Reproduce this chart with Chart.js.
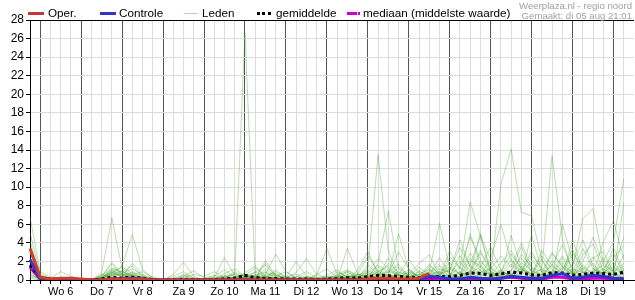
<!DOCTYPE html>
<html>
<head>
<meta charset="utf-8">
<script src="https://cdn.jsdelivr.net/npm/chart.js@4"></script>
<style>
  body { margin: 0; background: #fff; font-family: "Liberation Sans", Arial, sans-serif; }
  #wrap { position: relative; width: 635px; height: 300px; }
  .lg { position: absolute; top: 6px; font-size: 11.7px; color: #000; white-space: nowrap; }
  .sw { position: absolute; }
  .credit { position: absolute; right: 3px; font-size: 9.6px; color: #a0a0a0; white-space: nowrap; }
</style>
</head>
<body>
<div id="wrap">
  <canvas id="neerslag"></canvas>
  <div class="sw" style="left:28px;top:12px;width:16px;height:0;border-top:3px solid #cc3333"></div>
  <div class="lg" style="left:48px">Oper.</div>
  <div class="sw" style="left:100px;top:12px;width:16px;height:0;border-top:3px solid #3333cc"></div>
  <div class="lg" style="left:119px">Controle</div>
  <div class="sw" style="left:184px;top:13px;width:14px;height:0;border-top:1px solid #b7d8aa"></div>
  <div class="lg" style="left:202px">Leden</div>
  <div class="sw" style="left:257px;top:12px;width:14px;height:0;border-top:3px dotted #000"></div>
  <div class="lg" style="left:276px">gemiddelde</div>
  <div class="sw" style="left:347px;top:12px;width:10px;height:0;border-top:3px solid #cc00cc"></div>
  <div class="sw" style="left:358px;top:12px;width:2px;height:0;border-top:3px solid #cc00cc"></div>
  <div class="lg" style="left:363px">mediaan (middelste waarde)</div>
  <div class="credit" style="top:0px">Weerplaza.nl - regio noord</div>
  <div class="credit" style="top:10px">Gemaakt: di 05 aug 21:01</div>
</div>
<script>
// 6-uurlijkse stappen, index 0 = di 5 aug 18:00
const dagen = ['Wo 6', 'Do 7', 'Vr 8', 'Za 9', 'Zo 10', 'Ma 11', 'Di 12', 'Wo 13', 'Do 14', 'Vr 15', 'Za 16', 'Zo 17', 'Ma 18', 'Di 19'];
const aantalStappen = 60;
const yTicks = [0, 2, 4, 6, 8, 10, 12, 14, 16, 18, 20, 22, 24, 26, 28];

const oper = [3.4,0.3,0.1,0.2,0.2,0.1,0,0,0.1,0.1, 0.1,0.1,0,0,0,0,0,0,0,0, 0,0,0,0,0,0,0,0,0,0, 0,0,0,0.1,0.2,0.2,0.1,0.1,0.2,0.7];
const controle = [2.2,0.1,0,0,0,0,0,0,0.1,0.1, 0.2,0.1,0,0,0,0,0,0,0,0, 0,0,0,0,0,0,0,0,0,0, 0,0,0,0,0,0.1,0,0,0.1,0.4, 0.3,0.1,0.1,0.3,0.2,0.1,0.2,0.4,0.3,0.2, 0.2,0.5,0.7,0.2,0.3,0.5,0.4,0.2,0.1,0.1];
const gemiddelde = [1.6,0.2,0.1,0.1,0.1,0,0,0.1,0.3,0.2, 0.3,0.2,0.05,0,0,0.1,0.05,0,0.05,0.1, 0.2,0.5,0.25,0.15,0.15,0.1,0.1,0.1,0.05,0.1, 0.15,0.25,0.2,0.35,0.5,0.45,0.4,0.3,0.25,0.3, 0.4,0.35,0.5,0.75,0.7,0.5,0.65,0.85,0.75,0.55, 0.5,0.8,0.75,0.5,0.6,0.75,0.7,0.6,0.85,0.9];
const mediaan = [1.4,0.1,0,0,0,0,0,0,0.1,0.1, 0.1,0,0,0,0,0,0,0,0,0, 0,0,0,0,0,0,0,0,0,0, 0,0,0,0,0.1,0.1,0,0,0,0.1, 0.1,0,0.1,0.2,0.1,0.1,0.2,0.3,0.2,0.1, 0.1,0.3,0.3,0.1,0.1,0.2,0.2,0.1,0.2,0.1];

const leden = [
  [6.8,0.9,0.3,0.2,0.1,0,0,0.4,1.9,0.6, 0.3,0.1,0,0,0.2,0.5,0.1,0,0,0.3, 0.6,26.6,0.4,0.2,0.1,0,0,0.2,0.1,0, 0.3,0.8,0.4,1.2,13.5,3.1,0.6,0.2,0.1,0.4, 1.2,0.8,0.3,2.1,1.5,0.6,0.3,1.1,2.4,0.9, 0.5,1.6,3.8,1.2,0.4,2.3,3.1,0.8,1.5,2.2],
  [5.1,0.6,0.2,0.1,0.2,0,0,0.8,6.7,1.2, 0.4,0.2,0,0,0,0.2,0.1,0,0,0, 0.2,0.5,1.3,0.4,0.2,0.1,0,0,0.5,3.4, 0.6,0.2,0.1,0.3,0.9,0.5,5.0,1.1,0.3,0.2, 0.8,0.5,1.4,8.4,4.7,1.0,0.3,0.6,1.2,0.4, 0.2,0.9,2.6,1.4,6.6,7.7,2.0,0.6,1.3,0.5],
  [4.2,0.5,0.2,0.9,0.4,0.1,0,0.2,0.6,1.5, 4.9,1.1,0.2,0,0,0.1,0,0,0.2,0.1, 0.3,0.6,0.2,2.1,0.5,0.1,0,0.3,0.2,0, 0,3.4,0.7,0.2,1.8,7.4,1.2,0.4,0.2,0.9, 6.1,1.3,0.6,0.8,5.0,0.7,10.3,14.1,7.3,6.9, 2.1,0.4,0.6,1.2,0.8,0.5,1.9,4.2,10.9,4.3],
  [3.6,0.4,0.1,0.1,0.1,0,0,0.5,1.2,0.8, 0.6,0.9,0.3,0,0.6,1.9,0.4,0,0,0, 0.7,0.3,0.2,0.6,2.8,0.9,0.2,0.1,0,0.3, 0.4,0.2,0.6,2.6,0.9,1.5,0.5,1.1,0.4,1.7, 0.6,0.3,0.2,1.6,4.8,2.2,0.6,0.4,0.9,2.7, 1.3,13.4,4.5,0.6,0.3,0.9,1.6,0.4,8.3,1.8],
  [2.9,0.3,0.1,0,0,0,0,0.3,0.9,1.4, 0.7,0.2,0,0,0,0.4,1.0,0.2,0.3,2.4, 0.5,0.2,0.4,0.2,1.1,0.3,2.0,0.4,0.1,0, 0.6,1.1,0.3,0.9,2.3,1.2,0.6,2.2,0.7,0.3, 0.4,1.9,0.5,2.4,1.0,0.2,0.9,2.8,1.2,0.5, 3.2,1.5,0.7,2.9,1.4,0.6,4.1,6.4,2.2,0.7],
  [2.4,0.2,0.3,0.2,0.1,0,0,0.2,1.1,0.4, 1.8,0.6,0.1,0,0.4,0.9,0.2,0,0,0.7, 1.2,0.4,0.8,1.6,0.5,0.2,0.8,2.3,0.6,0.2, 0,0.4,0.2,0.5,1.4,0.7,3.0,1.2,0.3,0.6, 1.5,0.4,2.6,0.9,3.2,0.8,0.3,1.7,0.6,4.9, 0.8,0.4,1.3,0.5,2.7,3.9,1.0,0.3,0.7,1.4],
  [1.9,0.2,0.1,0.1,0,0,0,0.1,0.7,0.3, 0.9,0.4,0,0,0,0.3,0.6,0.4,0.9,0.2, 0.1,0.8,1.5,0.4,0.9,0.3,0.1,0,0.6,1.2, 0.3,0.1,1.0,3.1,0.6,0.3,1.4,0.5,1.8,2.7, 0.6,1.0,4.3,1.4,0.5,2.3,6.0,2.1,0.6,1.1, 0.4,2.1,0.9,0.3,1.6,0.6,2.4,0.9,0.2,0.8],
  [1.4,0.1,0.1,0.1,0.1,0,0,0.4,1.7,0.5, 0.2,0.3,0.1,0,0,0,0,0,0.4,1.1, 0.3,0.1,0.3,1.2,0.4,0.9,0.2,0.1,0.2,0.1, 0.9,0.3,0.1,0.6,0.3,2.4,0.4,0.1,0.9,0.5, 2.4,0.7,0.3,5.0,1.6,0.4,1.1,0.3,2.8,1.4, 0.5,0.3,6.0,2.1,0.8,0.4,1.1,2.9,0.6,3.3],
  [1.0,0.1,0,0,0,0,0,0.2,0.5,0.7, 1.2,0.5,0.2,0,0,0.6,0.2,0.1,0,0.4, 0.2,0.6,0.3,0.8,0.2,0,0.3,0.9,0.3,0.1, 0.2,1.0,0.6,0.3,0.9,0.4,0.2,0.8,0.3,1.1, 0.3,2.5,1.3,0.6,2.0,0.9,0.4,4.8,1.3,0.6, 2.2,0.5,1.1,3.3,0.7,1.8,0.4,0.6,2.7,0.9],
  [0.7,0.1,0,0,0,0,0,0.1,0.9,0.3, 0.6,0.2,0,0,0.2,0.1,0,0,0,0.2, 0.9,0.3,0.1,0.5,0.7,0.1,0,0.2,0,0.3, 0.1,0,0.3,0.8,0.4,1.0,0.6,0.2,0.6,0.4, 0.9,0.2,0.8,0.4,1.1,0.6,0.2,0.9,3.6,0.8, 0.3,1.7,0.6,0.9,0.4,1.2,0.6,1.9,0.5,0.4],
  [0.4,0,0,0,0,0,0,0.2,1.3,0.9, 0.4,0.1,0,0,0,0,0.1,0,0.2,0.5, 0.1,0.2,0.6,0.1,0.3,0.4,0.1,0,0.1,0, 0.3,0.5,0.2,0.1,0.5,0.2,0.9,0.3,0.4,0.2, 0.5,1.2,0.3,0.7,1.4,0.3,0.8,0.5,0.7,2.1, 0.9,0.4,2.4,0.7,1.3,0.3,0.9,0.4,1.1,2.6],
  [0.9,0.1,0.1,0,0,0,0,0.6,0.4,1.0, 0.3,0.1,0,0,0,0,0,0.2,0.5,0.1, 0,0.4,0.2,1.8,0.3,0,0.1,0.4,0.2,0.5, 1.1,0.2,0.4,0.2,0.7,0.4,0.3,0.2,1.0,0.3, 0.2,0.6,0.3,1.0,0.5,1.3,0.4,0.2,1.5,0.6, 1.2,0.6,0.3,4.4,1.0,0.5,0.8,3.5,0.9,0.3],
  [0.5,0.1,0,0,0,0,0,0.1,0.3,0.2, 0.5,0.3,0,0,0,0,0,0,0,0, 0.1,0.2,0.1,0.3,0.1,0,0,0.1,0,0.1, 0,0.2,0.1,0.4,0.2,0.6,0.2,0.1,0.2,0.3, 0.4,0.2,0.9,0.3,0.6,0.2,1.0,0.4,0.3,0.5, 0.2,0.8,0.4,0.2,0.9,0.3,0.5,0.2,0.6,0.3],
  [0.2,0,0,0,0,0,0,0.3,0.8,0.4, 0.2,0.1,0,0,0,0,0,0,0,0.1, 0.4,0.1,0.2,0.4,0.2,0,0,0,0.2,0, 0.1,0.1,0.2,0.3,0.4,0.3,0.5,0.4,0.1,0.7, 0.3,0.5,0.2,0.6,0.4,0.8,0.3,0.6,1.0,0.4, 0.6,0.3,1.5,0.5,0.2,0.7,1.2,0.5,0.3,1.0],
  [1.2,0.2,0.1,0,0,0,0,0.2,0.7,0.5, 0.8,0.3,0,0,0,0.2,0,0,0.1,0.3, 0.2,0.1,0.5,0.9,0.3,0.1,0,0.3,0.1,0.2, 0.5,0.9,0.2,1.6,0.6,0.8,1.7,0.4,0.6,1.2, 0.5,3.1,1.2,4.6,2.2,0.6,1.8,3.2,1.1,0.7, 2.6,1.1,0.5,1.7,4.3,1.5,0.6,2.4,3.7,1.6],
  [0.6,0.1,0,0,0,0,0,0.1,0.5,0.6, 0.3,0.2,0,0,0,0,0.2,0.1,0,0.1, 0.3,0.5,0.2,0.3,0.6,0.2,0.1,0,0.1,0.4, 0.2,0.3,0.6,0.4,1.1,0.5,0.3,0.9,0.4,0.8, 1.7,0.6,2.0,0.7,2.9,1.4,0.5,2.2,0.9,3.1, 1.0,0.7,1.9,0.6,1.1,2.5,0.9,1.4,0.5,2.3],
  [3.0,0.4,0.2,0.1,0,0,0,0.3,1.0,0.6, 0.5,0.3,0.1,0,0,0.1,0,0,0,0.2, 0.1,0.3,0.4,0.2,0.1,0.3,0.6,0.2,0,0.1, 0.2,0.6,0.3,0.7,1.6,0.9,0.5,0.3,1.4,0.6, 0.9,1.4,0.7,2.9,1.3,3.6,1.0,0.5,1.9,1.0, 0.6,2.8,1.6,0.8,3.4,1.2,0.7,1.1,4.6,1.2],
  [2.0,0.3,0.1,0,0,0,0,0.2,0.8,0.9, 1.5,0.4,0,0,0,0.1,0,0,0.2,0.4, 0.6,0.2,0.9,0.3,0.2,0.1,0.4,0.1,0,0, 0.4,0.2,0.5,1.0,0.5,1.8,0.8,0.6,0.2,1.5, 0.7,1.1,3.5,1.5,0.8,1.2,2.6,1.4,4.0,1.3, 0.9,3.0,1.4,0.6,2.0,4.6,1.7,0.9,1.8,0.6]
];

// labels: daglabel op 12:00 van elke dag, rest leeg
const labels = [];
for (let i = 0; i < aantalStappen; i++) {
    labels.push(i % 4 === 3 ? dagen[(i - 3) / 4] : '');
}

const lijn = (label, data, kleur, dikte, extra) => Object.assign({
    label: label,
    data: data,
    borderColor: kleur,
    borderWidth: dikte,
    pointRadius: 0,
    tension: 0,
    fill: false
}, extra || {});

const datasets = [
    lijn('Oper.', oper, '#d03a2f', 3),
    lijn('Controle', controle, '#3333cc', 3),
    lijn('gemiddelde', gemiddelde, '#000', 3, { borderDash: [3, 3] }),
    lijn('mediaan', mediaan, '#cc00cc', 3)
];
leden.forEach((reeks, i) => {
    datasets.push(lijn('lid ' + (i + 1), reeks, 'rgba(70,165,45,0.38)', 1));
});

const bovenrand = {
    id: 'bovenrand',
    afterDraw(chart) {
        const { ctx, chartArea } = chart;
        ctx.save();
        ctx.strokeStyle = '#000';
        ctx.lineWidth = 1;
        ctx.beginPath();
        ctx.moveTo(chartArea.left, chartArea.top + 0.5);
        ctx.lineTo(chartArea.right, chartArea.top + 0.5);
        ctx.stroke();
        ctx.restore();
    }
};

new Chart(document.getElementById('neerslag'), {
    type: 'line',
    data: { labels: labels, datasets: datasets },
    plugins: [bovenrand],
    options: {
        responsive: true,
        maintainAspectRatio: false,
        animation: false,
        layout: { padding: { top: 20, right: 1, left: 0, bottom: 0 } },
        plugins: { legend: { display: false }, tooltip: { enabled: false } },
        scales: {
            x: {
                offset: false,
                afterFit: (as) => { as.height = 20; },
                border: { color: '#000', width: 1 },
                grid: {
                    offset: false,
                    color: (c) => (c.index % 4 === 1 ? '#555' : '#dcdcdc'),
                    tickColor: '#000',
                    tickLength: 4
                },
                ticks: {
                    autoSkip: false,
                    maxRotation: 0,
                    padding: 1,
                    color: '#000',
                    font: { family: 'Liberation Sans', size: 11 }
                }
            },
            y: {
                min: 0,
                max: 28,
                afterFit: (as) => { as.width = 30; },
                afterBuildTicks: (as) => { as.ticks = yTicks.map(v => ({ value: v })); },
                border: { color: '#000', width: 1 },
                grid: { color: '#dcdcdc', tickColor: '#000', tickLength: 4 },
                ticks: {
                    padding: 2,
                    color: '#000',
                    font: { family: 'Liberation Sans', size: 12 }
                }
            }
        }
    }
});
</script>
</body>
</html>
